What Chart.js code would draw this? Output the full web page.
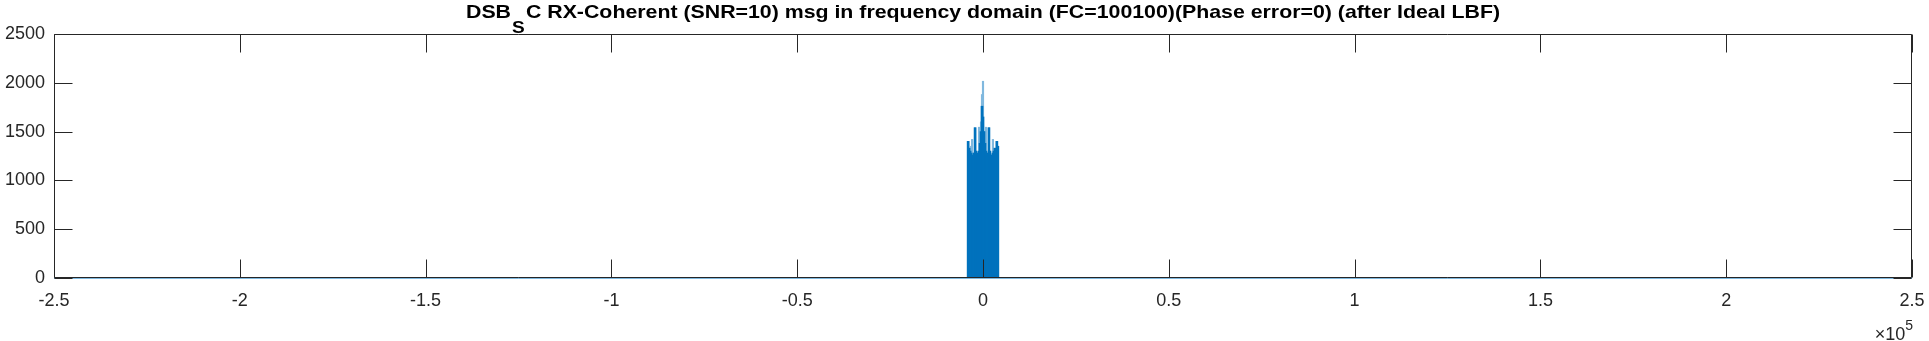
<!DOCTYPE html>
<html><head><meta charset="utf-8">
<script src="https://cdn.jsdelivr.net/npm/chart.js@4/dist/chart.umd.min.js"></script>
<style>html,body{margin:0;padding:0;background:#fff;overflow:hidden}</style>
</head><body>
<canvas id="c" width="1929" height="341" style="display:block;width:1929px;height:341px"></canvas>
<script>
// ---- text ----
const titleMain = 'DSB';
const titleSub = 'S';
const titleRest = 'C RX-Coherent (SNR=10) msg in frequency domain (FC=100100)(Phase error=0) (after Ideal LBF)';
const xExpBase = '\u00d710';
const xExpPower = '5';

// ---- axes ----
const freqRange = [-250000, 250000];   // Hz
const freqStep = 50000;
const freqTickScale = 1e5;             // labels shown as x 10^5
const magRange = [0, 2500];
const magStep = 500;

// ---- spectrum inside the pass band (Hz / magnitude) ----
const bandFreq = [-4000,-3733,-3467,-3200,-2933,-2667,-2400,-2133,-1867,-1600,-1333,-1067,-800,-533,-267,0,
                  267,533,800,1067,1333,1600,1867,2133,2400,2667,2933,3200,3467,3733,4000];
// dense (solid) part of the spectrum
const bandMag  = [1400,1330,1300,1280,1260,1230,1280,1540,1300,1250,1280,1300,1380,1500,1760,1650,
                  1500,1380,1300,1280,1250,1540,1300,1260,1250,1280,1300,1330,1300,1400,1350];
// thin (faint) spike tips
const bandPeak = [1400,1330,1300,1350,1420,1230,1280,1540,1300,1250,1280,1545,1380,1600,1880,2016,
                  1500,1380,1545,1280,1250,1540,1300,1260,1250,1420,1300,1330,1300,1400,1350];
// spectrum outside the band (after ideal low-pass filter)
const floorFreq = [-250000, 250000];
const floorMag  = [0, 0];

const AX = '#262626';
const BLUE = '#0072BD';
const LIGHT = '#80b8de';
const FONT = '"Liberation Sans", Arial, Helvetica, sans-serif';

const boxPlugin = {
  id: 'box',
  afterDraw(chart) {
    const {ctx, chartArea: a, scales} = chart;
    ctx.save();
    ctx.strokeStyle = AX; ctx.lineWidth = 1;
    const L = Math.round(a.left) + 0.5, R = Math.round(a.right) - 0.5;
    const T = Math.round(a.top) + 0.5, B = Math.round(a.bottom) - 0.5;
    ctx.beginPath();
    ctx.rect(L, T, R - L, B - T);
    const tl = 18;
    scales.x.ticks.forEach(t => {
      const p = Math.round(scales.x.getPixelForValue(t.value)) + 0.5;
      ctx.moveTo(p, B); ctx.lineTo(p, B - tl);
      ctx.moveTo(p, T); ctx.lineTo(p, T + tl);
    });
    scales.y.ticks.forEach(t => {
      const p = Math.round(scales.y.getPixelForValue(t.value)) + 0.5;
      ctx.moveTo(L, p); ctx.lineTo(L + tl, p);
      ctx.moveTo(R, p); ctx.lineTo(R - tl, p);
    });
    ctx.stroke();

    // title with subscript
    const mainF = 'bold 19px ' + FONT, subF = 'bold 17px ' + FONT;
    ctx.font = mainF; const w1 = ctx.measureText(titleMain).width;
    ctx.font = subF;  const w2 = ctx.measureText(titleSub).width;
    ctx.font = mainF; const w3 = ctx.measureText(titleRest).width;
    const total = w1 + w2 + w3 + 2;
    const target = 1034;
    const f = target / total;
    const cx = (a.left + a.right) / 2;
    ctx.translate(cx - target / 2, 0);
    ctx.scale(f, 1);
    ctx.fillStyle = '#000';
    ctx.textBaseline = 'alphabetic';
    ctx.textAlign = 'left';
    ctx.font = mainF; ctx.fillText(titleMain, 0, 17.5);
    ctx.font = subF;  ctx.fillText(titleSub, w1 + 1, 33);
    ctx.font = mainF; ctx.fillText(titleRest, w1 + w2 + 2, 17.5);
    ctx.restore();

    // exponent label
    ctx.save();
    ctx.fillStyle = AX;
    ctx.textBaseline = 'alphabetic';
    ctx.font = '14px ' + FONT;
    const pw = ctx.measureText(xExpPower).width;
    ctx.textAlign = 'right';
    ctx.fillText(xExpPower, a.right + 1, 330);
    ctx.font = '18px ' + FONT;
    ctx.fillText(xExpBase, a.right + 1 - pw, 340);
    ctx.restore();
  }
};

Chart.defaults.font.family = FONT;
Chart.defaults.color = AX;

new Chart(document.getElementById('c'), {
  type: 'bar',
  data: {
    datasets: [
      { type: 'bar', label: 'band', data: bandFreq.map((x, i) => ({x, y: bandMag[i]})),
        backgroundColor: BLUE, borderWidth: 0, grouped: false, barThickness: 2, order: 1 },
      { type: 'bar', label: 'tips', data: bandFreq.map((x, i) => ({x, y: bandPeak[i]})),
        backgroundColor: LIGHT, borderWidth: 0, grouped: false, barThickness: 1.5, order: 2 },
      { type: 'line', label: 'floor', data: floorFreq.map((x, i) => ({x, y: floorMag[i]})),
        borderColor: BLUE, borderWidth: 1, pointRadius: 0, clip: false, order: 3 }
    ]
  },
  options: {
    responsive: false, animation: false, devicePixelRatio: 1,
    layout: { padding: { top: 34, right: 17, left: 0, bottom: 0 } },
    plugins: { legend: { display: false }, tooltip: { enabled: false }, title: { display: false } },
    scales: {
      x: {
        type: 'linear', min: freqRange[0], max: freqRange[1], offset: false,
        grid: { display: false, drawTicks: false, offset: false }, border: { display: false },
        ticks: { stepSize: freqStep, padding: 12, maxRotation: 0, autoSkip: false,
                 font: { size: 18 }, color: AX,
                 callback: v => String(Math.round(v / freqTickScale * 10) / 10) },
        afterFit: s => { s.height = 63; s.paddingLeft = 0; s.paddingRight = 0; }
      },
      y: {
        min: magRange[0], max: magRange[1],
        grid: { display: false, drawTicks: false }, border: { display: false },
        ticks: { stepSize: magStep, padding: 9, font: { size: 18 }, color: AX,
                 callback: v => String(v) },
        afterFit: s => { s.width = 54; s.paddingTop = 0; s.paddingBottom = 0; }
      }
    }
  },
  plugins: [boxPlugin]
});
</script>
</body></html>
